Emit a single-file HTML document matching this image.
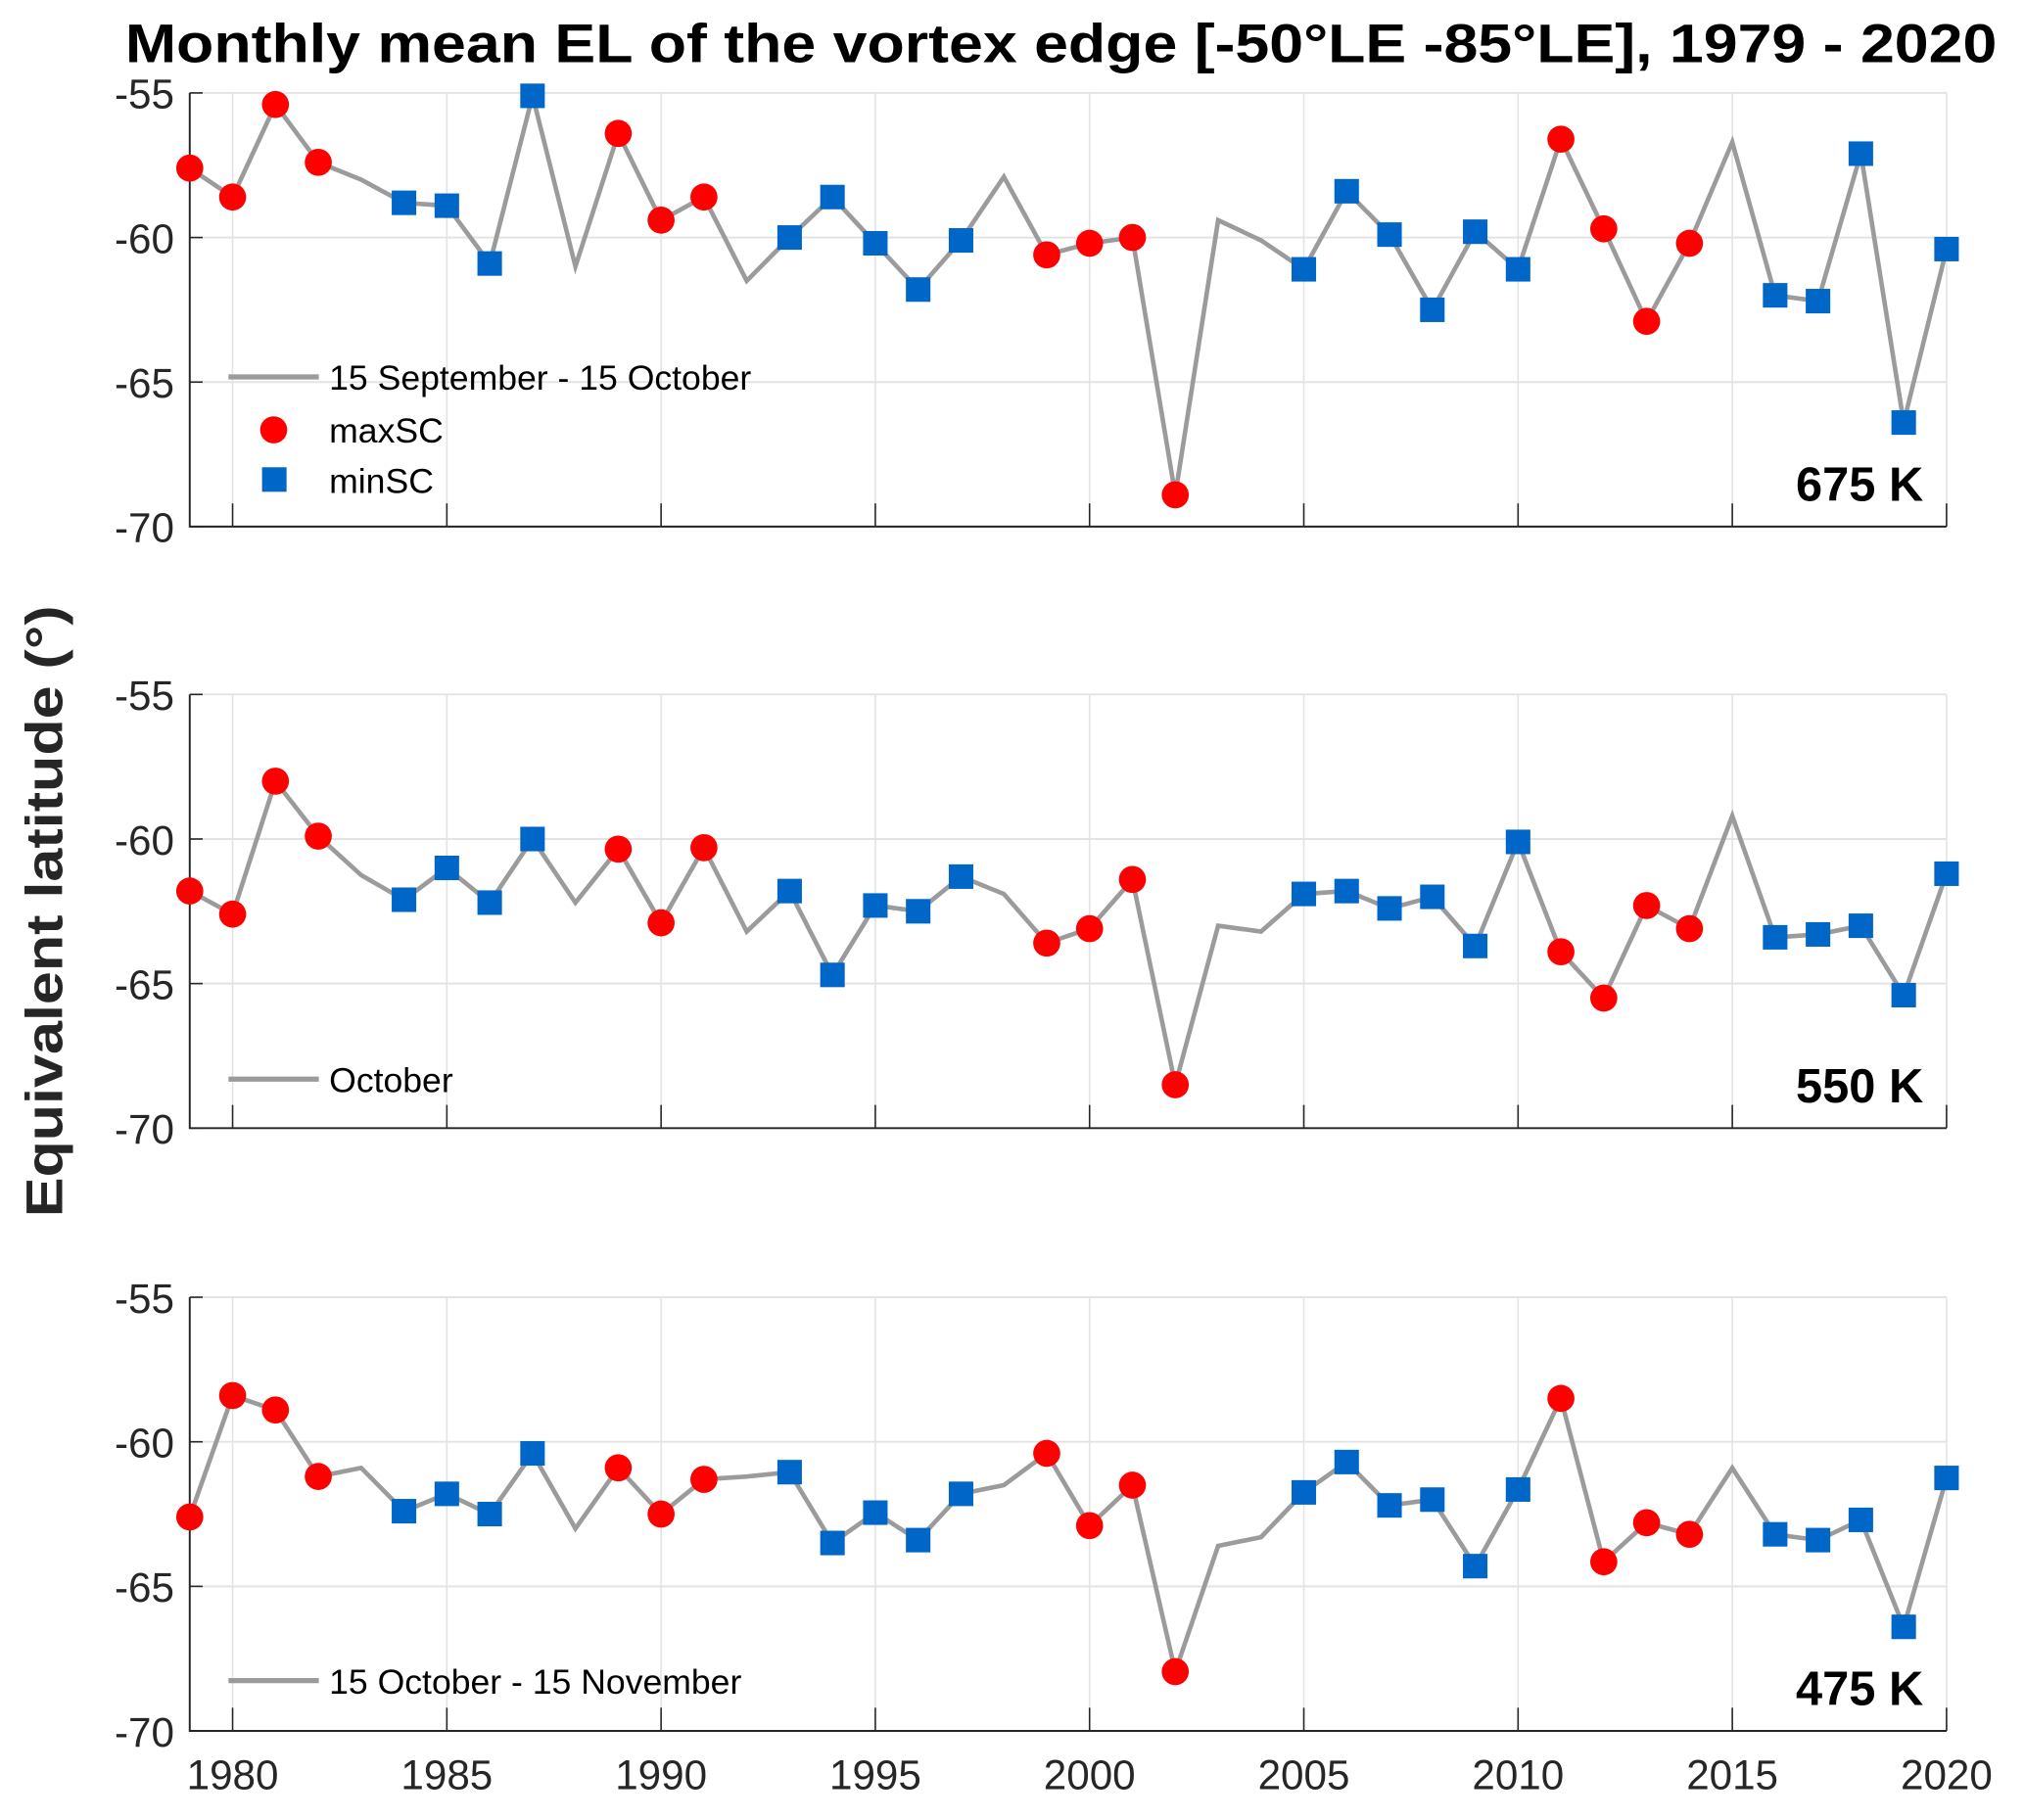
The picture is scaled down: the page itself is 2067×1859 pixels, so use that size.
<!DOCTYPE html>
<html><head><meta charset="utf-8">
<style>
html,body{margin:0;padding:0;background:#fff;}
svg{display:block;font-family:"Liberation Sans",Arial,sans-serif;}
</style></head>
<body>
<svg id="chart" width="2067" height="1859" viewBox="0 0 1568 1410" preserveAspectRatio="none" xmlns="http://www.w3.org/2000/svg">
<text x="97" y="48" textLength="1450" lengthAdjust="spacingAndGlyphs" font-size="42" font-weight="bold" fill="#000">Monthly mean EL of the vortex edge [-50°LE -85°LE], 1979 - 2020</text>
<text transform="translate(48,706) rotate(-90)" text-anchor="middle" textLength="474" lengthAdjust="spacingAndGlyphs" font-size="40" font-weight="bold" fill="#262626">Equivalent latitude (°)</text>
</svg>
<script>
const years = [];
for (let y = 1979; y <= 2020; y++) years.push(y);
const yTicks = [-55, -60, -65, -70];
const xTicks = [1980, 1985, 1990, 1995, 2000, 2005, 2010, 2015, 2020];
const panelLabels = ['675 K', '550 K', '475 K'];
const legendTitles = ['15 September - 15 October', 'October', '15 October - 15 November'];
const v675 = [-57.6,-58.6,-55.4,-57.4,-58.0,-58.8,-58.9,-60.9,-55.1,-61.0,-56.4,-59.4,-58.6,-61.5,-60.0,-58.6,-60.2,-61.8,-60.1,-57.9,-60.6,-60.2,-60.0,-68.9,-59.4,-60.1,-61.1,-58.4,-59.9,-62.5,-59.8,-61.1,-56.6,-59.7,-62.9,-60.2,-56.7,-62.0,-62.2,-57.1,-66.4,-60.4];
const t675 = "cccc-sss s-ccc-sssss-cccc--ssssssccc c-sssss".replace(/ /g,'');
const v550 = [-61.8,-62.6,-58.0,-59.9,-61.25,-62.1,-61.0,-62.2,-60.0,-62.2,-60.35,-62.9,-60.3,-63.2,-61.8,-64.7,-62.3,-62.5,-61.3,-61.9,-63.6,-63.1,-61.4,-68.5,-63.0,-63.2,-61.9,-61.8,-62.4,-62.0,-63.7,-60.1,-63.9,-65.5,-62.3,-63.1,-59.2,-63.4,-63.3,-63.0,-65.4,-61.2];
const t550 = t675;
const v475 = [-62.6,-58.4,-58.9,-61.2,-60.9,-62.4,-61.8,-62.5,-60.4,-63.0,-60.9,-62.5,-61.3,-61.2,-61.05,-63.5,-62.45,-63.4,-61.8,-61.5,-60.4,-62.9,-61.5,-67.95,-63.6,-63.3,-61.75,-60.7,-62.2,-62.0,-64.3,-61.65,-58.5,-64.15,-62.8,-63.2,-60.9,-63.2,-63.4,-62.7,-66.4,-61.25];
const t475 = t675;

const NS = 'http://www.w3.org/2000/svg';
const svg = document.getElementById('chart');
const X0 = 147, X1 = 1508;
function xs(yr){ return X0 + (yr - 1979) / 41 * (X1 - X0); }
function mk(tag, attrs, parent){ const e = document.createElementNS(NS, tag); for (const k in attrs) e.setAttribute(k, attrs[k]); (parent||svg).appendChild(e); return e; }

const panels = [
  {top:72, vals:v675, types:t675, name:'675k', legendY:292},
  {top:538, vals:v550, types:t550, name:'550k', legendY:836},
  {top:1005, vals:v475, types:t475, name:'475k', legendY:1302}
];
panels.forEach((p, i) => {
  const bottom = p.top + 336;
  const ys = v => p.top + (-55 - v) / 15 * 336;
  const g = mk('g', {});
  
  
  yTicks.forEach(t => {
    const l = mk('line', {x1:X0, x2:X1, y1:ys(t), y2:ys(t), stroke:'#e3e3e3', 'stroke-width':1.5}, g);
    
    
    const tx = mk('text', {x:X0-12, y:ys(t)+12, 'text-anchor':'end', 'font-size':32, fill:'#262626'}, g);
    tx.textContent = t;
    
    
    mk('line', {x1:X0, x2:X0+10, y1:ys(t), y2:ys(t), stroke:'#262626', 'stroke-width':1.2}, g);
  });
  xTicks.forEach(t => {
    const l = mk('line', {x1:xs(t), x2:xs(t), y1:p.top, y2:bottom, stroke:'#e3e3e3', 'stroke-width':1.2}, g);
    
    
    mk('line', {x1:xs(t), x2:xs(t), y1:bottom, y2:bottom-18, stroke:'#262626', 'stroke-width':1.2}, g);
    if (i === 2) {
      const tx = mk('text', {x:xs(t), y:bottom+45, 'text-anchor':'middle', 'font-size':32, fill:'#262626'}, g);
      tx.textContent = t;
      
      
    }
  });
  const ax = mk('path', {d:`M${X0} ${p.top}V${bottom}H${X1}`, fill:'none', stroke:'#262626', 'stroke-width':1.5}, g);
  
  
  const pts = p.vals.map((v, k) => xs(years[k]).toFixed(1) + ',' + ys(v).toFixed(1)).join(' ');
  const pl = mk('polyline', {points:pts, fill:'none', stroke:'#9b9b9b', 'stroke-width':3.5, 'stroke-linejoin':'miter'}, g);
  
  
  p.vals.forEach((v, k) => {
    const ty = p.types[k];
    const cx = xs(years[k]), cy = ys(v);
    if (ty === 'c') {
      const c = mk('circle', {cx, cy, r:10.5, fill:'#ff0000'}, g);
      
      
    } else if (ty === 's') {
      const r = mk('rect', {x:cx-9.5, y:cy-9.5, width:19, height:19, fill:'#0066c8'}, g);
      
      
    }
  });
  const lg = mk('g', {}, g);
  
  
  mk('line', {x1:177, x2:247, y1:p.legendY, y2:p.legendY, stroke:'#9b9b9b', 'stroke-width':4}, lg);
  const lt = mk('text', {x:255, y:p.legendY+10, 'font-size':27, fill:'#000'}, lg);
  lt.textContent = legendTitles[i];
  
  
  if (i === 0) {
    mk('circle', {cx:212, cy:333, r:10.5, fill:'#ff0000'}, lg);
    const t1 = mk('text', {x:255, y:343, 'font-size':27, fill:'#000'}, lg);
    t1.textContent = 'maxSC';
    
    
    mk('rect', {x:203, y:362, width:19, height:19, fill:'#0066c8'}, lg);
    const t2 = mk('text', {x:255, y:382, 'font-size':27, fill:'#000'}, lg);
    t2.textContent = 'minSC';
    
    
  }
  const pl2 = mk('text', {x:1490, y:bottom-20, 'text-anchor':'end', 'font-size':37, 'font-weight':'bold', fill:'#000'}, g);
  pl2.textContent = panelLabels[i];
  
  
});
</script>
</body></html>
